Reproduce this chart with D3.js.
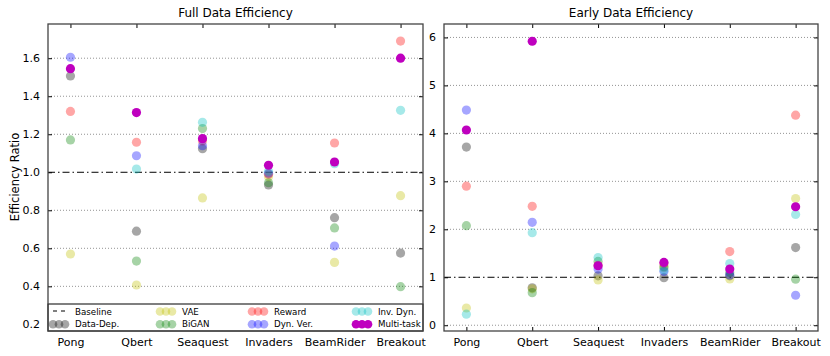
<!DOCTYPE html>
<html>
<head>
<meta charset="utf-8">
<script src="https://cdn.jsdelivr.net/npm/d3@7"></script>
<style>
  body { margin: 0; background: #fff; }
  svg { font-family: "DejaVu Sans", sans-serif; }
</style>
</head>
<body>
<svg id="chart" width="830" height="356"></svg>
<script>
// games on the x axis
const games = ["Pong", "Qbert", "Seaquest", "Invaders", "BeamRider", "Breakout"];
const methods = ["Data-Dep.", "VAE", "BiGAN", "Reward", "Dyn. Ver.", "Inv. Dyn.", "Multi-task"];
const methodColors = ["#000000", "#bfbf00", "#008000", "#ff0000", "#0000ff", "#00bfbf", "#bf00bf"];
const methodAlpha = [0.35, 0.35, 0.35, 0.35, 0.35, 0.35, 1];

// full data efficiency, one row per method (null = not in view)
const fullData = [
  [1.507, 0.690, 1.124, 0.933, 0.761, 0.575],
  [0.570, 0.407, 0.865, 0.977, 0.526, 0.877],
  [1.170, 0.533, 1.230, 0.945, 0.707, 0.398],
  [1.320, 1.158, 1.165, 0.990, 1.154, 1.690],
  [1.605, 1.087, 1.140, 0.995, 0.612, null],
  [null, 1.017, 1.263, 1.005, 1.045, 1.326],
  [1.545, 1.314, 1.177, 1.037, 1.054, 1.600]
];
// early data efficiency
const earlyData = [
  [3.715, 0.780, 1.030, 0.990, 1.030, 1.620],
  [0.360, 0.760, 0.945, 1.200, 0.965, 2.640],
  [2.075, 0.680, 1.330, 1.220, 1.100, 0.960],
  [2.900, 2.480, 1.250, 1.280, 1.535, 4.380],
  [4.485, 2.145, 1.170, 1.120, 1.050, 0.625],
  [0.230, 1.930, 1.410, 1.150, 1.285, 2.310],
  [4.070, 5.920, 1.240, 1.310, 1.170, 2.470]
];
const fullTicks = [0.2, 0.4, 0.6, 0.8, 1.0, 1.2, 1.4, 1.6];
const earlyTicks = [0, 1, 2, 3, 4, 5, 6];
const baseline = 1.0;

const svg = d3.select("#chart");
const plotTop = 24, plotBottom = 331;

function drawPanel(left, right, domain, ticks, fmt, data, title, withLegend) {
  const g = svg.append("g");
  const x = d3.scalePoint().domain(games).range([left, right]).padding(0.34);
  const y = d3.scaleLinear().domain(domain).range([plotBottom, plotTop]);

  // grid
  g.append("g").selectAll("line")
    .data(ticks.filter(t => t !== baseline))
    .join("line")
    .attr("x1", left).attr("x2", right)
    .attr("y1", d => y(d)).attr("y2", d => y(d))
    .attr("stroke", "#777").attr("stroke-width", 0.8)
    .attr("stroke-dasharray", "1,2");

  // baseline
  g.append("line")
    .attr("x1", left).attr("x2", right)
    .attr("y1", y(baseline)).attr("y2", y(baseline))
    .attr("stroke", "#000").attr("stroke-width", 1)
    .attr("stroke-dasharray", "7,3,1.5,3");

  // points
  data.forEach((row, mi) => {
    g.append("g").selectAll("circle")
      .data(row.map((v, i) => ({game: games[i], v})).filter(d => d.v !== null))
      .join("circle")
      .attr("cx", d => x(d.game))
      .attr("cy", d => y(d.v))
      .attr("r", 4.6)
      .attr("fill", methodColors[mi])
      .attr("fill-opacity", methodAlpha[mi]);
  });

  // axes
  const yl = g.append("g").attr("transform", `translate(${left},0)`)
    .call(d3.axisLeft(y).tickValues(ticks).tickFormat(fmt).tickSizeInner(-4).tickSizeOuter(0).tickPadding(8));
  const yr = g.append("g").attr("transform", `translate(${right},0)`)
    .call(d3.axisRight(y).tickValues(ticks).tickFormat("").tickSizeInner(-4).tickSizeOuter(0));
  const xb = g.append("g").attr("transform", `translate(0,${plotBottom})`)
    .call(d3.axisBottom(x).tickSizeInner(-4).tickSizeOuter(0).tickPadding(7));
  const xt = g.append("g").attr("transform", `translate(0,${plotTop})`)
    .call(d3.axisTop(x).tickFormat("").tickSizeInner(-4).tickSizeOuter(0));
  [yl, yr, xb, xt].forEach(a => {
    a.select(".domain").remove();
    a.selectAll("line").attr("stroke", "#000");
    a.selectAll("text").attr("font-size", 11).attr("fill", "#000")
      .attr("font-family", "DejaVu Sans, sans-serif");
  });

  if (withLegend) drawLegend(g, left, right);

  // frame
  g.append("rect")
    .attr("x", left).attr("y", plotTop)
    .attr("width", right - left).attr("height", plotBottom - plotTop)
    .attr("fill", "none").attr("stroke", "#444").attr("stroke-width", 1.3);

  g.append("text")
    .attr("x", (left + right) / 2).attr("y", plotTop - 7)
    .attr("text-anchor", "middle").attr("font-size", 12)
    .text(title);
}

function drawLegend(g, left, right) {
  const ly = 304;
  const lg = g.append("g");
  lg.append("rect")
    .attr("x", left).attr("y", ly)
    .attr("width", right - left).attr("height", plotBottom - ly)
    .attr("fill", "#fff").attr("stroke", "#000").attr("stroke-width", 1);
  const items = [{label: "Baseline", line: true}]
    .concat(methods.map((m, i) => ({label: m, mi: i})));
  const colX = [52, 159, 251, 355];
  items.forEach((d, i) => {
    const cx = colX[Math.floor(i / 2)];
    const cy = ly + 7 + (i % 2) * 12.7;
    if (d.line) {
      lg.append("line")
        .attr("x1", cx + 1).attr("x2", cx + 14)
        .attr("y1", cy).attr("y2", cy)
        .attr("stroke", "#000").attr("stroke-dasharray", "4,4");
    } else {
      [0, 6, 12].forEach(o => {
        lg.append("circle")
          .attr("cx", cx + o + 1).attr("cy", cy + 0.5)
          .attr("r", 4.3)
          .attr("fill", methodColors[d.mi])
          .attr("fill-opacity", methodAlpha[d.mi]);
      });
    }
    lg.append("text")
      .attr("x", cx + 23).attr("y", cy + 3.5)
      .attr("font-size", 8.7)
      .text(d.label);
  });
}

drawPanel(48, 423, [0.165, 1.78], fullTicks, d3.format(".1f"), fullData, "Full Data Efficiency", true);
drawPanel(444, 818, [-0.12, 6.28], earlyTicks, d3.format("d"), earlyData, "Early Data Efficiency", false);

// y label
svg.append("text")
  .attr("transform", "translate(19,177) rotate(-90)")
  .attr("text-anchor", "middle").attr("font-size", 11.5)
  .text("Efficiency Ratio");
</script>
</body>
</html>
